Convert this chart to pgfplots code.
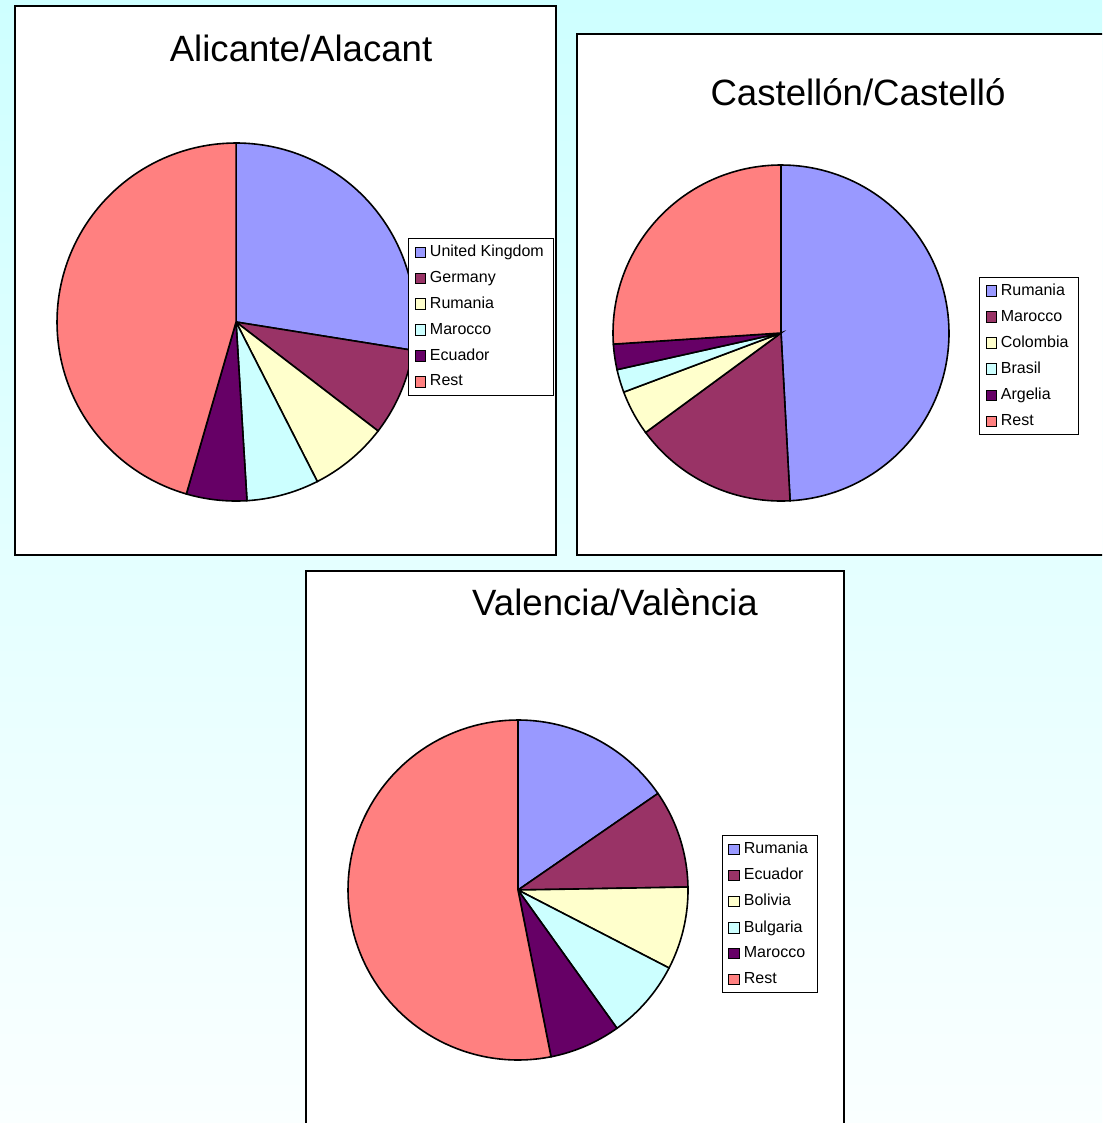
\documentclass[border=0pt]{standalone}
\usepackage{fontspec}
\setmainfont{Liberation Sans}
\usepackage{pgfplots}
\pgfplotsset{compat=1.18}

% Excel 2003 default pie colours
\definecolor{s1}{HTML}{9999FF}
\definecolor{s2}{HTML}{993366}
\definecolor{s3}{HTML}{FFFFCC}
\definecolor{s4}{HTML}{CCFFFF}
\definecolor{s5}{HTML}{660066}
\definecolor{s6}{HTML}{FF8080}
\definecolor{bgtop}{RGB}{206,255,255}
\definecolor{bgbot}{RGB}{250,255,255}

\pgfplotsset{
  piebox/.style={
    scale only axis, y dir=reverse, enlargelimits=false,
    xtick=\empty, ytick=\empty,
    axis line style={black, line width=1pt},
    axis background/.style={fill=white},
    clip=false,
    legend cell align=left,
    legend image code/.code={\draw[##1, line width=0.5pt] (0pt,-2.6pt) rectangle (5.2pt,2.6pt);},
    legend style={anchor=north west, draw=black, line width=0.5pt, fill=white,
      font=\fontsize{8}{9}\selectfont, inner xsep=3pt, inner ysep=1.2pt,
      row sep=1.8pt},
  },
  slice/.style={draw=black, line width=0.8pt, samples=90, fill=#1},
}
\newcommand{\ttl}{\fontsize{18.3}{22}\selectfont}

\begin{document}
\begin{tikzpicture}
\useasboundingbox (0,0) rectangle (551pt,-561.5pt);
\clip (0,0) rectangle (551pt,-561.5pt);
\shade[top color=bgtop, bottom color=bgbot] (0,0) rectangle (551pt,-561.5pt);

% Alicante/Alacant -- slice edges in degrees, clockwise from 90
\begin{axis}[piebox, at={(7.5pt,-3pt)}, anchor=north west,
  width=270.5pt, height=274.5pt, xmin=15, xmax=556, ymin=6, ymax=555,
  legend style={at={(0.7264,0.5774)}}]
\addplot[slice=s1, domain=-9.1:90]    ({236+179*cos(x)},{322-179*sin(x)}) -- (axis cs:236,322) -- cycle;
\addlegendentry{United Kingdom}
\addplot[slice=s2, domain=-37.5:-9.1] ({236+179*cos(x)},{322-179*sin(x)}) -- (axis cs:236,322) -- cycle;
\addlegendentry{Germany}
\addplot[slice=s3, domain=-63.0:-37.5] ({236+179*cos(x)},{322-179*sin(x)}) -- (axis cs:236,322) -- cycle;
\addlegendentry{Rumania}
\addplot[slice=s4, domain=-86.5:-63.0] ({236+179*cos(x)},{322-179*sin(x)}) -- (axis cs:236,322) -- cycle;
\addlegendentry{Marocco}
\addplot[slice=s5, domain=-106.1:-86.5] ({236+179*cos(x)},{322-179*sin(x)}) -- (axis cs:236,322) -- cycle;
\addlegendentry{Ecuador}
\addplot[slice=s6, domain=-270:-106.1] ({236+179*cos(x)},{322-179*sin(x)}) -- (axis cs:236,322) -- cycle;
\addlegendentry{Rest}
\node[font=\ttl, anchor=base] at (axis cs:301,61) {Alicante/Alacant};
\end{axis}

% Castellón/Castelló
\begin{axis}[piebox, at={(288.5pt,-17pt)}, anchor=north west,
  width=266.5pt, height=260.5pt, xmin=577, xmax=1110, ymin=34, ymax=555,
  legend style={at={(0.7542,0.5336)}}]
\addplot[slice=s1, domain=-86.9:90]    ({781+168*cos(x)},{333-168*sin(x)}) -- (axis cs:781,333) -- cycle;
\addlegendentry{Rumania}
\addplot[slice=s2, domain=-143.7:-86.9] ({781+168*cos(x)},{333-168*sin(x)}) -- (axis cs:781,333) -- cycle;
\addlegendentry{Marocco}
\addplot[slice=s3, domain=-159.4:-143.7] ({781+168*cos(x)},{333-168*sin(x)}) -- (axis cs:781,333) -- cycle;
\addlegendentry{Colombia}
\addplot[slice=s4, domain=-167.4:-159.4] ({781+168*cos(x)},{333-168*sin(x)}) -- (axis cs:781,333) -- cycle;
\addlegendentry{Brasil}
\addplot[slice=s5, domain=-176.2:-167.4] ({781+168*cos(x)},{333-168*sin(x)}) -- (axis cs:781,333) -- cycle;
\addlegendentry{Argelia}
\addplot[slice=s6, domain=-270:-176.2] ({781+168*cos(x)},{333-168*sin(x)}) -- (axis cs:781,333) -- cycle;
\addlegendentry{Rest}
\node[font=\ttl, anchor=base] at (axis cs:858,105) {Castellón/Castelló};
\end{axis}

% Valencia/València
\begin{axis}[piebox, at={(153pt,-285.5pt)}, anchor=north west,
  width=269pt, height=282pt, xmin=306, xmax=844, ymin=571, ymax=1135,
  legend style={at={(0.7732,0.5319)}}]
\addplot[slice=s1, domain=34.6:90]    ({518+170*cos(x)},{890-170*sin(x)}) -- (axis cs:518,890) -- cycle;
\addlegendentry{Rumania}
\addplot[slice=s2, domain=1.0:34.6]   ({518+170*cos(x)},{890-170*sin(x)}) -- (axis cs:518,890) -- cycle;
\addlegendentry{Ecuador}
\addplot[slice=s3, domain=-27.3:1.0]  ({518+170*cos(x)},{890-170*sin(x)}) -- (axis cs:518,890) -- cycle;
\addlegendentry{Bolivia}
\addplot[slice=s4, domain=-54.4:-27.3] ({518+170*cos(x)},{890-170*sin(x)}) -- (axis cs:518,890) -- cycle;
\addlegendentry{Bulgaria}
\addplot[slice=s5, domain=-78.8:-54.4] ({518+170*cos(x)},{890-170*sin(x)}) -- (axis cs:518,890) -- cycle;
\addlegendentry{Marocco}
\addplot[slice=s6, domain=-270:-78.8] ({518+170*cos(x)},{890-170*sin(x)}) -- (axis cs:518,890) -- cycle;
\addlegendentry{Rest}
\node[font=\ttl, anchor=base] at (axis cs:615,615) {Valencia/València};
\end{axis}
\end{tikzpicture}
\end{document}
